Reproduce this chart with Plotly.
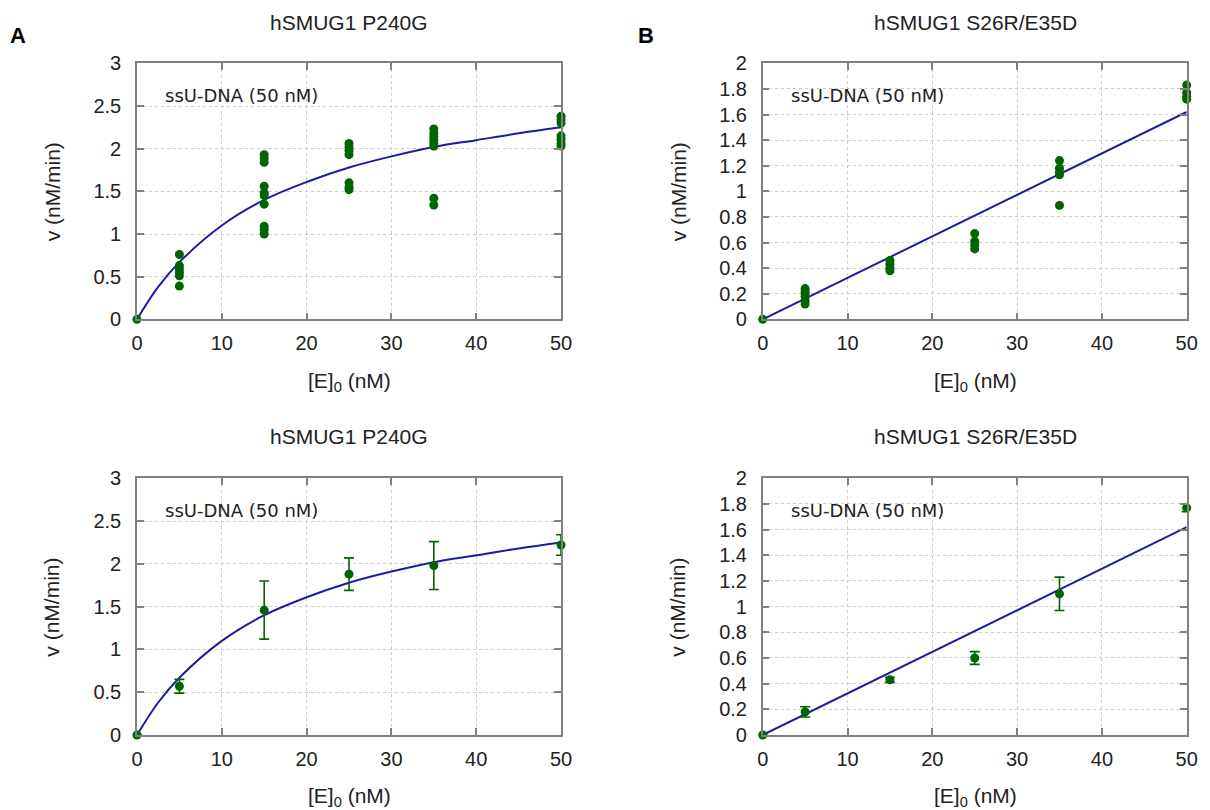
import plotly.graph_objects as go

# --- data ---
# top-left: hSMUG1 P240G, individual replicates
p240_x = [0, 5, 5, 5, 5, 5, 5,
          15, 15, 15, 15, 15, 15, 15, 15, 15, 15,
          25, 25, 25, 25, 25, 25, 25,
          35, 35, 35, 35, 35, 35, 35, 35,
          50, 50, 50, 50, 50, 50, 50]
p240_v = [0, 0.76, 0.63, 0.59, 0.55, 0.51, 0.39,
          1.93, 1.89, 1.84, 1.56, 1.48, 1.45, 1.35, 1.09, 1.05, 1.00,
          2.06, 2.02, 1.98, 1.93, 1.60, 1.55, 1.52,
          2.23, 2.18, 2.14, 2.10, 2.06, 2.03, 1.42, 1.34,
          2.38, 2.34, 2.30, 2.15, 2.11, 2.06, 2.03]
# fitted hyperbola
p240_fit_x = [0, 2.5, 5, 10, 15, 20, 25, 30, 35, 40, 45, 50]
p240_fit_v = [0, 0.38, 0.67, 1.10, 1.40, 1.61, 1.78, 1.91, 2.02, 2.10, 2.18, 2.25]
# bottom-left: means and SD
p240_mx = [0, 5, 15, 25, 35, 50]
p240_mean = [0, 0.57, 1.46, 1.88, 1.98, 2.22]
p240_sd = [0, 0.08, 0.34, 0.19, 0.28, 0.12]

# top-right: hSMUG1 S26R/E35D, individual replicates
s26_x = [0, 5, 5, 5, 5, 5, 5,
         15, 15, 15, 15,
         25, 25, 25, 25,
         35, 35, 35, 35, 35,
         50, 50, 50, 50]
s26_v = [0, 0.24, 0.22, 0.20, 0.18, 0.15, 0.12,
         0.46, 0.43, 0.40, 0.38,
         0.67, 0.61, 0.58, 0.55,
         1.24, 1.18, 1.15, 1.13, 0.89,
         1.83, 1.77, 1.74, 1.72]
s26_fit_x = [0, 50]
s26_fit_v = [0, 1.62]
s26_mx = [0, 5, 15, 25, 35, 50]
s26_mean = [0, 0.18, 0.43, 0.60, 1.10, 1.77]
s26_sd = [0, 0.04, 0.02, 0.05, 0.13, 0.03]

green = '#006400'
blue = '#1c1ca2'
font = 'Liberation Sans, Arial, sans-serif'

fig = go.Figure()

def pts(x, y, xa, ya, err=None):
    kw = dict(x=x, y=y, mode='markers', xaxis=xa, yaxis=ya, showlegend=False,
              marker=dict(color=green, size=9), cliponaxis=False)
    if err is not None:
        kw['error_y'] = dict(type='data', array=err, color=green, thickness=1.6, width=5)
    return go.Scatter(**kw)

def fit(x, y, xa, ya):
    return go.Scatter(x=x, y=y, mode='lines', xaxis=xa, yaxis=ya, showlegend=False,
                      line=dict(color=blue, width=2, shape='spline', smoothing=1.0))

fig.add_trace(fit(p240_fit_x, p240_fit_v, 'x', 'y'))
fig.add_trace(pts(p240_x, p240_v, 'x', 'y'))
fig.add_trace(fit(s26_fit_x, s26_fit_v, 'x2', 'y2'))
fig.add_trace(pts(s26_x, s26_v, 'x2', 'y2'))
fig.add_trace(fit(p240_fit_x, p240_fit_v, 'x3', 'y3'))
fig.add_trace(pts(p240_mx, p240_mean, 'x3', 'y3', p240_sd))
fig.add_trace(fit(s26_fit_x, s26_fit_v, 'x4', 'y4'))
fig.add_trace(pts(s26_mx, s26_mean, 'x4', 'y4', s26_sd))

ax_common = dict(showline=True, linecolor='#808080', linewidth=1.5, mirror='ticks',
                 ticks='inside', ticklen=7, tickcolor='#808080', tickwidth=1.5,
                 showgrid=True, gridcolor='#cccccc', griddash='dot', gridwidth=1,
                 zeroline=False,
                 tickfont=dict(family=font, size=20, color='#222222'))
xa_style = dict(ax_common, range=[0, 50], dtick=10, ticklabelstandoff=5)
ya_style = dict(ax_common, ticklabelstandoff=10)

# the page body adds an 8px margin, so the figure is 8px smaller on each side
left = [0.1073, 0.4601]
right = [0.6279, 0.9806]
top = [0.6118, 0.9310]
bottom = [0.0935, 0.4136]

fig.update_layout(
    width=1202, height=802, margin=dict(l=0, r=0, t=0, b=0, autoexpand=False),
    paper_bgcolor='white', plot_bgcolor='white',
    xaxis=dict(domain=left, anchor='y', **xa_style),
    yaxis=dict(domain=top, anchor='x', range=[0, 3], dtick=0.5, **ya_style),
    xaxis2=dict(domain=right, anchor='y2', **xa_style),
    yaxis2=dict(domain=top, anchor='x2', range=[0, 2], dtick=0.2, **ya_style),
    xaxis3=dict(domain=left, anchor='y3', **xa_style),
    yaxis3=dict(domain=bottom, anchor='x3', range=[0, 3], dtick=0.5, **ya_style),
    xaxis4=dict(domain=right, anchor='y4', **xa_style),
    yaxis4=dict(domain=bottom, anchor='x4', range=[0, 2], dtick=0.2, **ya_style),
)

titles = [('hSMUG1 P240G', 0.2837, 0.9813), ('hSMUG1 S26R/E35D', 0.8045, 0.9813),
          ('hSMUG1 P240G', 0.2837, 0.4651), ('hSMUG1 S26R/E35D', 0.8045, 0.4651)]
for txt, x, y in titles:
    fig.add_annotation(text=txt, x=x, y=y, xref='paper', yref='paper', showarrow=False,
                       xanchor='center', yanchor='middle',
                       font=dict(family=font, size=21, color='#222222'))

for x, y in [(0.2837, 0.5337), (0.8045, 0.5337), (0.2837, 0.0162), (0.8045, 0.0162)]:
    fig.add_annotation(text='[E]<sub>0</sub> (nM)', x=x, y=y, xref='paper', yref='paper',
                       showarrow=False, xanchor='center', yanchor='middle',
                       font=dict(family=font, size=21, color='#222222'))

for x, y in [(0.0366, 0.7714), (0.5574, 0.7714), (0.0366, 0.2535), (0.5574, 0.2535)]:
    fig.add_annotation(text='v (nM/min)', x=x, y=y, xref='paper', yref='paper',
                       showarrow=False, xanchor='center', yanchor='middle', textangle=-90,
                       font=dict(family=font, size=21, color='#222222'))

# sample label inside each panel
for xa, ya in [('x', 'y'), ('x2', 'y2'), ('x3', 'y3'), ('x4', 'y4')]:
    fig.add_annotation(text='ssU-DNA (50 nM)', x=0.062, y=0.873,
                       xref=f'{xa} domain', yref=f'{ya} domain', showarrow=False,
                       xanchor='left', yanchor='middle',
                       font=dict(family='DejaVu Sans, Verdana, sans-serif', size=18, color='#222222'))

for txt, x in [('A', 0.0087), ('B', 0.5308)]:
    fig.add_annotation(text=f'<b>{txt}</b>', x=x, y=0.9663, xref='paper', yref='paper',
                       showarrow=False, xanchor='center', yanchor='middle',
                       font=dict(family=font, size=22, color='black'))

fig.write_html('out.html')
